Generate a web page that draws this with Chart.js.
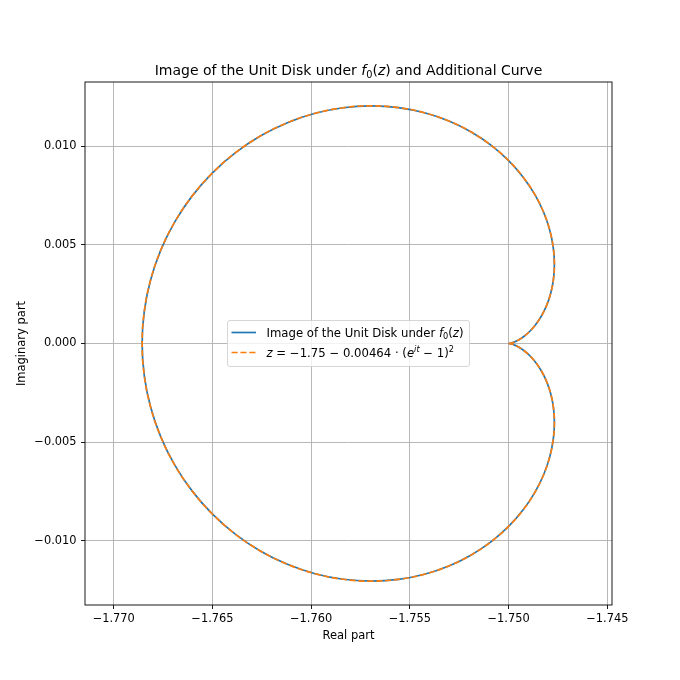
<!DOCTYPE html>
<html>
<head>
<meta charset="utf-8">
<title>Image of the Unit Disk</title>
<script src="https://cdn.jsdelivr.net/npm/chart.js@4.4.1/dist/chart.umd.min.js"></script>
<style>
  body { margin: 0; background: #fff; }
  canvas { display: block; }
</style>
</head>
<body>
<canvas id="disk_canvas" width="680" height="680"></canvas>
<script>
// points (both series lie on top of each other)
var curveX = [
  -1.750000, -1.749965, -1.749861, -1.749695, -1.749474, -1.749212, -1.748923, -1.748625, -1.748337,
  -1.748078, -1.747869, -1.747730, -1.747680, -1.747736, -1.747912, -1.748220, -1.748668, -1.749262,
  -1.750000, -1.750879, -1.751891, -1.753023, -1.754260, -1.755579, -1.756960, -1.758376, -1.759799,
  -1.761202, -1.762555, -1.763829, -1.764997, -1.766033, -1.766915, -1.767622, -1.768139, -1.768454,
  -1.768560,
  -1.768454, -1.768139, -1.767622, -1.766915, -1.766033, -1.764997, -1.763829, -1.762555, -1.761202,
  -1.759799, -1.758376, -1.756960, -1.755579, -1.754260, -1.753023, -1.751891, -1.750879, -1.750000,
  -1.749262, -1.748668, -1.748220, -1.747912, -1.747736, -1.747680, -1.747730, -1.747869, -1.748078,
  -1.748337, -1.748625, -1.748923, -1.749212, -1.749474, -1.749695, -1.749861, -1.749965, -1.750000
];
var curveY = [
  0.000000, 0.000003, 0.000025, 0.000082, 0.000191, 0.000367, 0.000622, 0.000963, 0.001396,
  0.001922, 0.002539, 0.003242, 0.004018, 0.004856, 0.005738, 0.006644, 0.007552, 0.008439,
  0.009280, 0.010050, 0.010726, 0.011284, 0.011703, 0.011965, 0.012055, 0.011962, 0.011679,
  0.011202, 0.010535, 0.009683, 0.008658, 0.007476, 0.006157, 0.004722, 0.003199, 0.001615,
  0.000000,
  -0.001615, -0.003199, -0.004722, -0.006157, -0.007476, -0.008658, -0.009683, -0.010535, -0.011202,
  -0.011679, -0.011962, -0.012055, -0.011965, -0.011703, -0.011284, -0.010726, -0.010050, -0.009280,
  -0.008439, -0.007552, -0.006644, -0.005738, -0.004856, -0.004018, -0.003242, -0.002539, -0.001922,
  -0.001396, -0.000963, -0.000622, -0.000367, -0.000191, -0.000082, -0.000025, -0.000003, 0.000000
];
var xTicks = [-1.770, -1.765, -1.760, -1.755, -1.750, -1.745];
var yTicks = [-0.010, -0.005, 0.000, 0.005, 0.010];
var seriesLabels = [
  'Image of the Unit Disk under $f_0(z)$',
  '$z = -1.75 - 0.00464 \\cdot (e^{it} - 1)^2$'
];
var chartTitle = 'Image of the Unit Disk under $f_0(z)$ and Additional Curve';
var xLabel = 'Real part';
var yLabel = 'Imaginary part';

var FONT = '"DejaVu Sans", Verdana, sans-serif';

function toPoints() {
  var pts = [];
  for (var i = 0; i < curveX.length; i++) pts.push({x: curveX[i], y: curveY[i]});
  return pts;
}

function fmt(v) {
  return v.toFixed(3).replace('-', '\u2212');
}

// tiny mathtext: $..$ -> letters italic, _ sub, ^ sup, - minus, \cdot
function parseMath(str) {
  var segs = [];
  var inMath = false;
  var i = 0;
  function push(t, it, sh) { segs.push({t: t, it: it, sh: sh}); }
  function readGroup() {
    if (str[i] === '{') {
      var j = str.indexOf('}', i);
      var g = str.slice(i + 1, j);
      i = j + 1;
      return g;
    }
    return str[i++];
  }
  while (i < str.length) {
    var c = str[i];
    if (c === '$') { inMath = !inMath; i++; continue; }
    if (!inMath) { push(c, false, 0); i++; continue; }
    if (c === '\\' && str.substr(i, 5) === '\\cdot') { push('\u00b7', false, 0); i += 5; continue; }
    if (c === '_' || c === '^') {
      i++;
      var g = readGroup();
      for (var k = 0; k < g.length; k++) push(g[k], /[a-zA-Z]/.test(g[k]), c === '_' ? 1 : -1);
      continue;
    }
    if (c === '-') { push('\u2212', false, 0); i++; continue; }
    push(c, /[a-zA-Z]/.test(c), 0);
    i++;
  }
  return segs;
}

function segFont(s, size) {
  var sz = s.sh ? size * 0.7 : size;
  return (s.it ? 'italic ' : '') + sz + 'px ' + FONT;
}

function richWidth(ctx, segs, size) {
  var w = 0;
  segs.forEach(function(s) { ctx.font = segFont(s, size); w += ctx.measureText(s.t).width; });
  return w;
}

function drawRich(ctx, segs, x, y, size) {
  ctx.textAlign = 'left';
  ctx.textBaseline = 'alphabetic';
  segs.forEach(function(s) {
    ctx.font = segFont(s, size);
    var dy = s.sh === 1 ? size * 0.22 : (s.sh === -1 ? -size * 0.42 : 0);
    ctx.fillText(s.t, x, y + dy);
    x += ctx.measureText(s.t).width;
  });
}

// title, axis labels, frame and legend drawn like the matplotlib figure
var decor = {
  id: 'decor',
  afterDatasetsDraw: function(chart) {
    var ctx = chart.ctx;
    var a = chart.chartArea;
    ctx.save();
    ctx.fillStyle = '#000';

    // frame
    ctx.strokeStyle = '#000';
    ctx.lineWidth = 0.9;
    ctx.strokeRect(a.left, a.top, a.right - a.left, a.bottom - a.top);

    // title
    var tSegs = parseMath(chartTitle);
    var tw = richWidth(ctx, tSegs, 14);
    drawRich(ctx, tSegs, (a.left + a.right) / 2 - tw / 2, 75, 14);

    // axis labels
    ctx.font = '11.5px ' + FONT;
    ctx.textAlign = 'center';
    ctx.textBaseline = 'alphabetic';
    ctx.fillText(xLabel, (a.left + a.right) / 2, 639);
    ctx.save();
    ctx.translate(25, (a.top + a.bottom) / 2);
    ctx.rotate(-Math.PI / 2);
    ctx.fillText(yLabel, 0, 0);
    ctx.restore();

    // legend
    var fs = 11.7;
    var segsList = chart.data.datasets.map(function(d) { return parseMath(d.label); });
    var maxW = 0;
    segsList.forEach(function(s) { maxW = Math.max(maxW, richWidth(ctx, s, fs)); });
    var bx = 227.5, by = 320.5;
    var bw = 39 + maxW + 6, bh = 46;
    ctx.beginPath();
    ctx.roundRect(bx, by, bw, bh, 2.5);
    ctx.fillStyle = 'rgba(255,255,255,0.8)';
    ctx.fill();
    ctx.strokeStyle = 'rgba(204,204,204,0.8)';
    ctx.lineWidth = 1;
    ctx.stroke();
    chart.data.datasets.forEach(function(d, i) {
      var cy = by + 12 + i * 20;
      ctx.beginPath();
      ctx.setLineDash(d.borderDash || []);
      ctx.strokeStyle = d.borderColor;
      ctx.lineWidth = d.borderWidth;
      ctx.moveTo(bx + 4, cy);
      ctx.lineTo(bx + 28.5, cy);
      ctx.stroke();
      ctx.setLineDash([]);
      ctx.fillStyle = '#000';
      drawRich(ctx, segsList[i], bx + 39, cy + 4, fs);
    });
    ctx.restore();
  }
};

var tickFont = {family: FONT, size: 11.4};

var chartdata = {
  datasets: [
    {
      label: seriesLabels[0],
      data: toPoints(),
      showLine: true,
      borderColor: '#1f77b4',
      borderWidth: 1.67,
      pointRadius: 0,
      tension: 0.4,
      fill: false,
      order: 1
    },
    {
      label: seriesLabels[1],
      data: toPoints(),
      showLine: true,
      borderColor: '#ff7f0e',
      borderWidth: 1.67,
      borderDash: [6.2, 2.7],
      pointRadius: 0,
      tension: 0.4,
      fill: false,
      order: 0
    }
  ]
};

var ctx = document.getElementById('disk_canvas').getContext('2d');
var diskChart = new Chart(ctx, {
  type: 'scatter',
  data: chartdata,
  plugins: [decor],
  options: {
    responsive: false,
    animation: false,
    layout: {padding: {top: 82, right: 68, bottom: 0, left: 0}},
    plugins: {
      legend: {display: false},
      title: {display: false},
      tooltip: {enabled: false}
    },
    scales: {
      x: {
        type: 'linear',
        min: -1.771455,
        max: -1.744762,
        afterFit: function(s) { s.height = 75; },
        afterBuildTicks: function(s) { s.ticks = xTicks.map(function(v) { return {value: v}; }); },
        border: {display: false},
        grid: {color: '#b0b0b0', lineWidth: 0.9, tickColor: '#000', tickLength: 4, tickWidth: 0.9},
        ticks: {font: tickFont, color: '#000', padding: 3, maxRotation: 0, autoSkip: false,
          callback: function(v) { return fmt(v); }}
      },
      y: {
        type: 'linear',
        min: -0.013266,
        max: 0.013266,
        afterFit: function(s) { s.width = 85; },
        afterBuildTicks: function(s) { s.ticks = yTicks.map(function(v) { return {value: v}; }); },
        border: {display: false},
        grid: {color: '#b0b0b0', lineWidth: 0.9, tickColor: '#000', tickLength: 4, tickWidth: 0.9},
        ticks: {font: tickFont, color: '#000', padding: 4.5, autoSkip: false,
          callback: function(v) { return fmt(v); }}
      }
    }
  }
});
</script>
</body>
</html>
